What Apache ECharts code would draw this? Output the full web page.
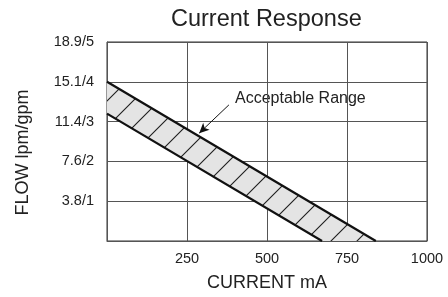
<!DOCTYPE html>
<html>
<head>
<meta charset="utf-8">
<script src="https://cdn.jsdelivr.net/npm/echarts@6/dist/echarts.min.js"></script>
<style>
  html, body { margin: 0; padding: 0; background: #fff; }
  #chart { width: 448px; height: 297px; }
</style>
</head>
<body>
<div id="chart"></div>
<script>
// band edges (x = current mA, y = flow in gpm units)
var upperX = [0, 840];
var upperY = [4.0, 0];
var lowerX = [0, 672];
var lowerY = [3.2, 0];

var xTicks = ['', '250', '500', '750', '1000'];
var yTicks = ['', '3.8/1', '7.6/2', '11.4/3', '15.1/4', '18.9/5'];

// arrow for the "Acceptable Range" note
var arrowFrom = [381, 3.42];
var arrowTo = [288, 2.71];

var font = '"Liberation Sans", Arial, Helvetica, sans-serif';

// hatch pattern for the band
function makeHatch() {
    var s = 26;
    var c = document.createElement('canvas');
    c.width = s;
    c.height = s;
    var ctx = c.getContext('2d');
    ctx.fillStyle = '#e4e4e4';
    ctx.fillRect(0, 0, s, s);
    ctx.strokeStyle = '#1a1a1a';
    ctx.lineWidth = 1.1;
    [-s, 0, s].forEach(function (k) {
        ctx.beginPath();
        ctx.moveTo(k - 1, s + 1);
        ctx.lineTo(k + s + 1, -1);
        ctx.stroke();
    });
    return c;
}
var hatch = makeHatch();

function zipPts(xs, ys) {
    return xs.map(function (x, i) { return [x, ys[i]]; });
}

var myChart = echarts.init(document.getElementById('chart'));

myChart.setOption({
    animation: false,
    title: {
        text: 'Current Response',
        left: 171,
        top: 8,
        padding: 0,
        textStyle: {fontFamily: font, fontSize: 23.5, fontWeight: 'normal', color: '#222'}
    },
    grid: {
        left: 107, right: 21, top: 42, bottom: 50,
        show: true, borderColor: '#333', borderWidth: 1
    },
    xAxis: {
        type: 'value',
        min: 0, max: 1000, interval: 250,
        name: 'CURRENT mA',
        nameLocation: 'middle',
        nameGap: 33,
        nameTextStyle: {fontFamily: font, fontSize: 18, color: '#222'},
        axisLine: {show: true, lineStyle: {color: '#555'}},
        axisTick: {show: false},
        splitLine: {lineStyle: {color: '#555', width: 1}},
        axisLabel: {
            fontFamily: font, fontSize: 14.5, color: '#222', margin: 10,
            formatter: function (v) { return xTicks[Math.round(v / 250)]; }
        }
    },
    yAxis: {
        type: 'value',
        min: 0, max: 5, interval: 1,
        name: 'FLOW lpm/gpm',
        nameLocation: 'middle',
        nameGap: 75,
        nameTextStyle: {fontFamily: font, fontSize: 18, color: '#222', padding: [0, 22, 0, 0]},
        axisLine: {show: true, lineStyle: {color: '#555'}},
        axisTick: {show: false},
        splitLine: {lineStyle: {color: '#555', width: 1}},
        axisLabel: {
            fontFamily: font, fontSize: 14.5, color: '#222', margin: 13,
            formatter: function (v) { return yTicks[Math.round(v)]; }
        }
    },
    graphic: [{
        type: 'text',
        left: 235,
        top: 91,
        style: {text: 'Acceptable Range', font: '16px ' + font, fill: '#222'}
    }],
    series: [
        {
            type: 'custom',
            silent: true,
            data: [[0, 0]],
            renderItem: function (params, api) {
                var pts = zipPts(upperX, upperY).concat(zipPts(lowerX, lowerY).reverse());
                return {
                    type: 'polygon',
                    shape: {points: pts.map(function (p) { return api.coord(p); })},
                    style: {fill: {image: hatch, repeat: 'repeat'}}
                };
            },
            z: 2
        },
        {
            type: 'line',
            data: zipPts(upperX, upperY),
            symbol: 'none',
            lineStyle: {color: '#111', width: 2.2},
            z: 3,
            markLine: {
                silent: true,
                symbol: ['none', 'arrow'],
                symbolSize: [7, 10],
                label: {show: false},
                lineStyle: {color: '#111', width: 1, type: 'solid'},
                data: [[{coord: arrowFrom}, {coord: arrowTo}]]
            }
        },
        {
            type: 'line',
            data: zipPts(lowerX, lowerY),
            symbol: 'none',
            lineStyle: {color: '#111', width: 2.2},
            z: 3
        }
    ]
});
</script>
</body>
</html>
